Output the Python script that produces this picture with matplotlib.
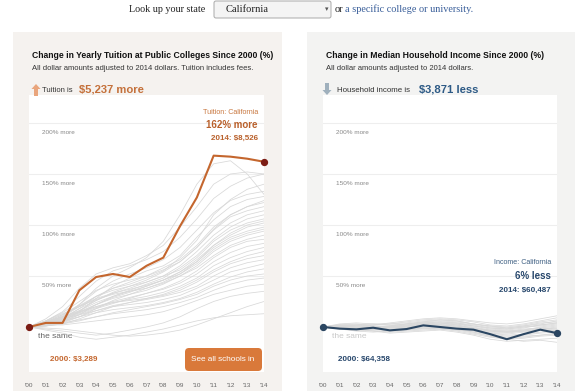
import matplotlib
matplotlib.use("Agg")
import matplotlib.pyplot as plt
import matplotlib.patches as patches
import matplotlib.transforms as mtransforms

W, H = 586, 391

years = list(range(2000, 2015))
year_labels = ["'%02d" % (y % 100) for y in years]

# tuition change since 2000 (%), California
tuition_ca = [0, 4, 4, 36, 49, 52, 49, 60, 68, 99, 127, 168, 167, 165, 162]
# other states, read roughly from the grey bundle
tuition_states = [
    [0, 3, 8, 18, 30, 38, 42, 48, 55, 68, 85, 110, 125, 135, 140],
    [0, 5, 12, 22, 35, 45, 52, 58, 66, 78, 95, 112, 124, 130, 133],
    [0, 2, 6, 15, 28, 40, 48, 55, 60, 70, 88, 105, 118, 125, 128],
    [0, 4, 10, 20, 30, 38, 44, 50, 58, 66, 80, 98, 110, 118, 122],
    [0, 6, 14, 25, 36, 42, 46, 50, 56, 64, 78, 95, 108, 114, 118],
    [0, 3, 9, 18, 26, 33, 38, 44, 50, 60, 74, 90, 102, 110, 114],
    [0, 2, 5, 12, 22, 30, 36, 42, 48, 58, 70, 86, 98, 106, 110],
    [0, 4, 11, 21, 30, 36, 40, 44, 50, 56, 68, 84, 95, 102, 106],
    [0, 5, 10, 16, 24, 30, 35, 40, 46, 54, 66, 80, 90, 98, 102],
    [0, 1, 4, 10, 18, 26, 32, 38, 44, 52, 64, 78, 88, 94, 98],
    [0, 3, 8, 15, 22, 28, 32, 36, 42, 50, 60, 74, 84, 90, 94],
    [0, 6, 13, 20, 27, 32, 35, 38, 43, 50, 58, 70, 80, 86, 90],
    [0, 2, 6, 12, 18, 23, 28, 33, 38, 45, 55, 68, 78, 84, 86],
    [0, 4, 9, 14, 20, 25, 29, 33, 37, 43, 52, 64, 73, 79, 82],
    [0, 3, 7, 13, 19, 24, 27, 30, 34, 40, 48, 60, 68, 74, 78],
    [0, 1, 3, 8, 14, 20, 24, 28, 32, 38, 46, 56, 64, 70, 74],
    [0, 5, 10, 15, 20, 24, 26, 28, 31, 36, 44, 54, 62, 67, 70],
    [0, 2, 5, 10, 16, 21, 24, 27, 30, 34, 40, 50, 58, 63, 66],
    [0, 4, 8, 12, 16, 20, 22, 24, 27, 31, 38, 46, 54, 58, 62],
    [0, 3, 6, 10, 14, 17, 19, 21, 24, 28, 34, 42, 49, 54, 57],
    [0, 1, 3, 6, 10, 14, 17, 20, 23, 27, 32, 40, 46, 50, 52],
    [0, 2, 4, 7, 10, 13, 15, 17, 20, 24, 29, 36, 42, 46, 48],
    [0, -2, -4, -6, -8, -6, -3, 0, 4, 10, 18, 25, 30, 33, 35],
    [0, -3, -6, -10, -12, -10, -8, -5, -2, 2, 6, 9, 11, 12, 13],
    [0, 8, 20, 38, 52, 58, 62, 70, 80, 98, 118, 140, 150, 152, 150],
    [0, 4, 10, 22, 38, 50, 58, 68, 84, 110, 140, 160, 163, 150, 130],
    [0, 6, 15, 30, 45, 55, 60, 66, 74, 88, 106, 126, 138, 146, 150],
    [0, 3, 8, 16, 26, 34, 40, 46, 54, 64, 78, 96, 110, 118, 124],
    [0, 2, 2, 4, 6, 8, 10, 12, 15, 20, 26, 32, 36, 40, 42],
    [0, -1, -2, -4, -6, -8, -9, -8, -6, -3, 2, 8, 14, 20, 25],
    [0, 5, 12, 20, 28, 33, 37, 41, 46, 52, 62, 76, 86, 92, 96],
    [0, 2, 7, 14, 22, 29, 34, 40, 46, 54, 64, 80, 92, 100, 104],
]

# median household income change since 2000 (%), California
income_ca = [0, -1.6, -2.3, -0.7, -3.3, -2, 1.6, 0, -1.6, -2.6, -7, -12, -7, -2.6, -6]
income_states = [
    [0, 1, 0, -1, 0, 2, 4, 5, 4, 1, -2, -3, -1, 2, 4],
    [0, -1, -2, -3, -2, -1, 1, 2, 1, -2, -5, -6, -4, -2, 0],
    [0, 2, 1, 0, 1, 3, 5, 6, 5, 3, 0, -1, 1, 3, 6],
    [0, -2, -4, -5, -4, -3, -1, 0, -1, -4, -7, -9, -8, -6, -5],
    [0, 0, -1, -1, 0, 1, 3, 4, 3, 0, -3, -4, -3, -1, 1],
    [0, 1, 2, 2, 3, 5, 7, 8, 7, 5, 2, 1, 3, 6, 9],
    [0, -1, -3, -4, -5, -4, -3, -2, -4, -7, -10, -12, -11, -9, -8],
    [0, 2, 3, 1, 0, 1, 2, 3, 2, -1, -4, -5, -3, 0, 2],
    [0, -1, -1, -2, -3, -2, 0, 1, 0, -3, -6, -8, -7, -5, -3],
    [0, 1, 1, 2, 4, 6, 8, 9, 8, 6, 4, 3, 5, 8, 11],
    [0, -2, -3, -2, -1, 0, 1, 0, -2, -5, -8, -10, -9, -8, -6],
    [0, 0, 1, 0, -1, 0, 2, 3, 3, 1, -1, -2, 0, 1, 3],
    [0, -1, -2, -4, -6, -5, -4, -3, -5, -8, -12, -14, -13, -12, -11],
    [0, 1, 0, -1, -2, -1, 1, 2, 1, -1, -3, -4, -2, -1, -2],
    [0, 3, 4, 3, 2, 3, 4, 5, 4, 2, -1, -2, 0, 2, 4],
    [0, -1, -2, -2, -1, 1, 3, 4, 2, -1, -4, -5, -4, -2, -1],
    [0, 0, -2, -3, -3, -2, -1, -1, -3, -6, -9, -11, -10, -8, -7],
    [0, 2, 2, 1, 1, 2, 3, 2, 0, -2, -4, -5, -4, -3, -4],
    [0, -1, -1, 0, 1, 3, 5, 7, 6, 3, 1, 0, 2, 5, 7],
    [0, 1, -1, -2, -4, -3, -2, -1, -2, -5, -9, -12, -14, -13, -15],
    [0, -2, -2, -1, 0, 0, -1, -2, -3, -4, -6, -7, -5, -3, -2],
    [0, 1, 2, 3, 3, 4, 6, 7, 6, 3, 1, -1, 1, 4, 5],
]

grid_vals = [0, 50, 100, 150, 200]
grid_labels = ["the same", "50% more", "100% more", "150% more", "200% more"]

ORANGE = "#c4662e"
ORANGE_TXT = "#b9602b"
DOT_RED = "#7b1c14"
NAVY = "#2b4662"
NAVY_TXT = "#26466b"
GREY_LINE = "#d8d8d8"

SANS = ["Liberation Sans", "DejaVu Sans"]
SERIF = ["Liberation Serif", "DejaVu Serif"]

fig = plt.figure(figsize=(W / 100, H / 100), dpi=100)
fig.patch.set_facecolor("white")
pix = mtransforms.IdentityTransform()


def fy(y):
    # top-down pixel -> display y
    return H - y


def txt(x, y, s, **kw):
    kw.setdefault("family", SANS)
    kw.setdefault("va", "center")
    fig.text(x / W, 1 - y / H, s, **kw)


def box(x0, y0, x1, y1):
    return [x0 / W, 1 - y1 / H, (x1 - x0) / W, (y1 - y0) / H]


# panel backgrounds (behind the axes)
fig.patches.append(patches.Rectangle((13, 0), 269, fy(32), transform=pix, facecolor="#f5f2ef",
                                     edgecolor="none", zorder=-5))
fig.patches.append(patches.Rectangle((307, 0), 268, fy(32), transform=pix, facecolor="#f3f3f2",
                                     edgecolor="none", zorder=-5))

# top selector line
txt(129, 9, "Look up your state", family=SERIF, fontsize=7.3, color="#222222")
fig.patches.append(patches.FancyBboxPatch((214, fy(18)), 117, 17, boxstyle="round,pad=0,rounding_size=2",
                                          transform=pix, facecolor="#f4f4f4", edgecolor="#a9a9a9", lw=0.7))
txt(226, 9, "California", family=SERIF, fontsize=7.6, color="#222222")
txt(327, 9, "\u25be", family=["DejaVu Sans"], fontsize=5, color="#555555", ha="center")
txt(335, 9, "or", family=SERIF, fontsize=7.4, color="#222222")
txt(345, 9, "a specific college or university.", family=SERIF, fontsize=7.4, color="#3a5f9a")

# headers
txt(32, 56, "Change in Yearly Tuition at Public Colleges Since 2000 (%)", fontsize=6.2, weight="bold", color="#111111")
txt(32, 68, "All dollar amounts adjusted to 2014 dollars. Tuition includes fees.", fontsize=5.5, color="#333333")
txt(42, 90, "Tuition is", fontsize=5.5, color="#333333")
txt(79, 89, "$5,237 more", fontsize=8.1, weight="bold", color="#c4703a")

txt(326, 56, "Change in Median Household Income Since 2000 (%)", fontsize=6.2, weight="bold", color="#111111")
txt(326, 68, "All dollar amounts adjusted to 2014 dollars.", fontsize=5.5, color="#333333")
txt(337, 90, "Household income is", fontsize=5.7, color="#333333")
txt(419, 89, "$3,871 less", fontsize=8.1, weight="bold", color="#2d5a86")

# little arrow icons
up = [(36, 84), (40.5, 89), (38, 89), (38, 96), (34, 96), (34, 89), (31.5, 89)]
fig.patches.append(patches.Polygon([(x, fy(y)) for x, y in up], closed=True, transform=pix,
                                   facecolor="#e9a57c", edgecolor="none"))
down = [(327, 95), (331.5, 90), (329, 90), (329, 83), (325, 83), (325, 90), (322.5, 90)]
fig.patches.append(patches.Polygon([(x, fy(y)) for x, y in down], closed=True, transform=pix,
                                   facecolor="#9fb0bd", edgecolor="none"))

# y scale: 0% at 327 px, 1.02 px per percent
Y0, PPP = 327, 1.02
ytop, ybot = 95, 372
ylim = ((Y0 - ybot) / PPP, (Y0 - ytop) / PPP)


def make_axes(x_first, x_last):
    ax = fig.add_axes(box(x_first, ytop, x_last, ybot))
    ax.set_facecolor("white")
    ax.set_xlim(2000, 2014)
    ax.set_ylim(*ylim)
    for s in ax.spines.values():
        s.set_visible(False)
    ax.set_yticks([])
    ax.set_xticks(years)
    ax.set_xticklabels(year_labels, fontsize=4.6, color="#666666", family=SANS)
    ax.tick_params(axis="x", length=0, pad=8)
    for v in grid_vals[1:]:
        ax.axhline(v, color="#eeeeee", lw=0.8, zorder=0)
    return ax


def grid_text(ax, same_color="#666666"):
    for v, lab in zip(grid_vals, grid_labels):
        if v == 0:
            ax.annotate(lab, (2000.55, v), xytext=(0, -7), textcoords="offset points", fontsize=6,
                        color=same_color, family=SANS, va="center", zorder=1)
            continue
        ax.annotate(lab, (2000.8, v), xytext=(0, -6.5), textcoords="offset points", fontsize=4.6,
                    color="#888888", family=SANS, va="center", zorder=1)


# left panel: tuition
axl = make_axes(29, 264)
grid_text(axl)
for s in tuition_states:
    axl.plot(years, s, color=GREY_LINE, lw=0.55, zorder=2)
axl.plot(years, tuition_ca, color=ORANGE, lw=1.5, zorder=4)
axl.scatter([years[0], years[-1]], [tuition_ca[0], tuition_ca[-1]], s=18, color=DOT_RED, zorder=5, clip_on=False)

txt(258, 112, "Tuition: California", fontsize=5.1, color="#c8773f", ha="right")
txt(258, 125, "162% more", fontsize=7.0, weight="bold", color=ORANGE_TXT, ha="right")
txt(258, 138, "2014: $8,526", fontsize=5.8, weight="bold", color=ORANGE_TXT, ha="right")
txt(50, 359, "2000: $3,289", fontsize=5.8, weight="bold", color="#c4672f")

fig.patches.append(patches.FancyBboxPatch((185, fy(371)), 77, 23, boxstyle="round,pad=0,rounding_size=4",
                                          transform=pix, facecolor="#d9793a", edgecolor="none", zorder=6))
txt(223, 359.5, "See all schools in", fontsize=5.9, color="white", ha="center", zorder=7)

# right panel: income
axr = make_axes(323, 557)
grid_text(axr, same_color="#c8c8c8")
for s in income_states:
    axr.plot(years, s, color=GREY_LINE, lw=0.55, zorder=2)
axr.plot(years, income_ca, color=NAVY, lw=1.5, zorder=4)
axr.scatter([years[0], years[-1]], [income_ca[0], income_ca[-1]], s=18, color=NAVY, zorder=5, clip_on=False)

txt(551, 263, "Income: California", fontsize=5.1, color="#3e5f82", ha="right")
txt(551, 276, "6% less", fontsize=7.0, weight="bold", color=NAVY_TXT, ha="right")
txt(551, 290, "2014: $60,487", fontsize=5.8, weight="bold", color=NAVY_TXT, ha="right")
txt(338, 359, "2000: $64,358", fontsize=5.8, weight="bold", color=NAVY_TXT)

fig.savefig("out.png", dpi=100)
